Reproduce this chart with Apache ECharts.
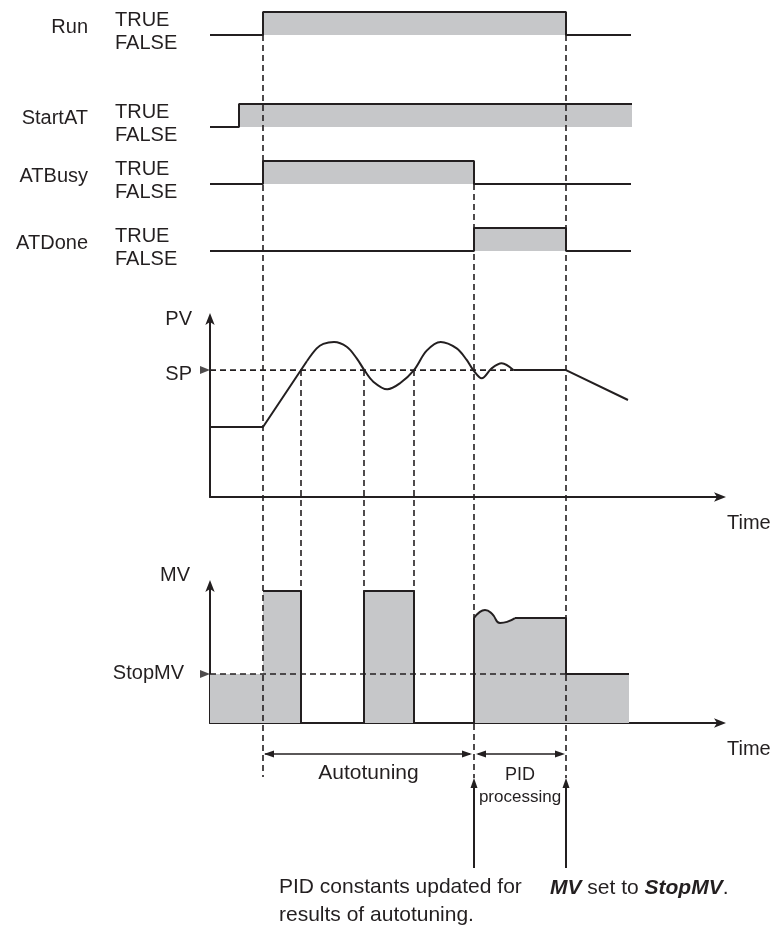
<!DOCTYPE html>
<html><head><meta charset="utf-8">
<script src="https://cdn.jsdelivr.net/npm/echarts@6/dist/echarts.min.js"></script>
<style>html,body{margin:0;padding:0;background:#fff}#c{width:775px;height:929px}</style>
</head><body><div id="c"></div>
<script>
// ---------- data (time in arbitrary units, 0 = start of window) ----------
const timeMax = 510;
const signalNames = ['Run', 'StartAT', 'ATBusy', 'ATDone'];
// digital signals: [time, 0 = FALSE / 1 = TRUE]
const runWave = [[0,0],[53,0],[53,1],[356,1],[356,0],[421,0]];
const startATWave = [[0,0],[29,0],[29,1],[422,1]];
const atBusyWave = [[0,0],[53,0],[53,1],[264,1],[264,0],[421,0]];
const atDoneWave = [[0,0],[264,0],[264,1],[356,1],[356,0],[421,0]];
// PV (process value) and SP (set point)
const spValue = 71.3;
const pvRamp = [[0,39.3],[53,39.3],[97,76.4]];
const pvOscillation = [[97,76.4],[106.7,83.5],[113.3,86.0],[124,87.1],[136.7,84.4],[146.7,77.9],[154.3,71.3],[163.3,64.8],[177.3,60.5],[190,63.9],[204,71.3],[216.7,82.2],[230.7,87.1],[246.7,83.5],[256.7,77.0],[263.3,71.3],[271.7,66.7],[281.7,72.3],[291.7,75.1],[303.3,71.3]];
const pvHoldAndFall = [[303.3,71.3],[356,71.3],[418,54.5]];
// MV (manipulated variable)
const stopMVValue = 35.8;
const mvHigh = 96.4;
const mvBeforeRun = [[0,35.8],[53,35.8]];
const mvAutotuning = [[53,96.4],[91,96.4],[91,0],[154,0],[154,96.4],[204,96.4],[204,0],[264,0],[264,76.6]];
const mvPIDStart = [[264,76.6],[269,80.6],[275,82.5],[282,79.8],[290,73.0],[297,73.8],[305,76.6]];
const mvPIDHoldAndStop = [[305,76.6],[356,76.6],[356,35.8],[419,35.8]];
// event times
const runRise = 53, atBusyFall = 264, runFall = 356;
const pvCrossTimes = [91, 154, 204];

// ---------- styling / layout ----------
const FONT = '"Liberation Sans", Arial, Helvetica, sans-serif';
const INK = '#231f20';
const GRAY = '#c6c7c9';
const LEFT = 210, WIDTH = 510;
const sigTops = [12, 104, 161, 228], SIG_H = 23;

const chart = echarts.init(document.getElementById('c'));

const grids = sigTops.map(t => ({left: LEFT, width: WIDTH, top: t, height: SIG_H}));
grids.push({left: LEFT, width: WIDTH, top: 319, height: 178});
grids.push({left: LEFT, width: WIDTH, top: 586, height: 137});

const axisLineArrow = {show: true, onZero: false, symbol: ['none', 'arrow'], symbolSize: [7, 12], symbolOffset: [0, 6], lineStyle: {color: INK, width: 2}};
const txt = (size, extra) => Object.assign({fontFamily: FONT, fontSize: size, color: INK}, extra || {});

const xAxes = grids.map((g, i) => {
  const base = {type: 'value', gridIndex: i, min: 0, max: timeMax, splitLine: {show: false}, axisTick: {show: false}, axisLabel: {show: false}};
  if (i < 4) return Object.assign(base, {show: false});
  return Object.assign(base, {
    axisLine: axisLineArrow, name: 'Time', nameLocation: 'end', nameGap: 7,
    nameTextStyle: txt(20, {align: 'left', verticalAlign: 'top', padding: [16, 0, 0, 0]})
  });
});

const yAxes = [];
for (let i = 0; i < 4; i++) {
  yAxes.push({
    type: 'value', gridIndex: i, min: 0, max: 1, interval: 1,
    axisLine: {show: false}, axisTick: {show: false}, splitLine: {show: false},
    axisLabel: txt(20, {show: true, showMinLabel: true, showMaxLabel: true, formatter: v => v === 1 ? 'TRUE' : 'FALSE', align: 'left', verticalAlign: 'top', lineHeight: 16, margin: 95})
  });
}
yAxes.push({
  type: 'value', gridIndex: 4, min: 0, max: 100,
  axisLine: axisLineArrow, axisTick: {show: false}, splitLine: {show: false},
  axisLabel: txt(20, {customValues: [spValue], formatter: () => 'SP', margin: 18, verticalAlign: 'top', lineHeight: 8}),
  name: 'PV', nameLocation: 'end', nameGap: 0,
  nameTextStyle: txt(20, {align: 'right', verticalAlign: 'middle', padding: [0, 18, 0, 0]})
});
yAxes.push({
  type: 'value', gridIndex: 5, min: 0, max: 100,
  axisLine: axisLineArrow, axisTick: {show: false}, splitLine: {show: false},
  axisLabel: txt(20, {customValues: [stopMVValue], formatter: () => 'StopMV', margin: 26}),
  name: 'MV', nameLocation: 'end', nameGap: 11,
  nameTextStyle: txt(20, {align: 'right', verticalAlign: 'middle', padding: [0, 20, 0, 0]})
});

const solid = {color: INK, width: 2};
const dashedStyle = {color: INK, width: 1.6, type: [6, 4]};
const area = {color: GRAY, opacity: 1};
const line = (ax, data, extra) => Object.assign({type: 'line', xAxisIndex: ax, yAxisIndex: ax, data: data, symbol: 'none', animation: false, lineStyle: solid, z: 2}, extra || {});

const series = [];
[runWave, startATWave, atBusyWave, atDoneWave].forEach((d, i) => series.push(line(i, d, {name: signalNames[i], areaStyle: area})));
// PV
series.push(line(4, [[0, spValue], [pvOscillation[pvOscillation.length - 1][0], spValue]], {lineStyle: dashedStyle, z: 1}));
series.push(line(4, pvRamp));
series.push(line(4, pvOscillation, {smooth: 0.35}));
series.push(line(4, pvHoldAndFall));
series.push({type: 'scatter', xAxisIndex: 4, yAxisIndex: 4, data: [[0, spValue]], symbol: 'triangle', symbolSize: [8, 10], symbolRotate: -90, symbolOffset: [-5, 0], itemStyle: {color: INK}, clip: false, silent: true, z: 5});
// MV
series.push(line(5, mvBeforeRun, {areaStyle: area, lineStyle: {width: 0}}));
series.push(line(5, mvAutotuning, {areaStyle: area}));
series.push(line(5, mvPIDStart, {areaStyle: area, smooth: 0.5}));
series.push(line(5, mvPIDHoldAndStop, {areaStyle: area}));
series.push(line(5, [[0, stopMVValue], [runFall, stopMVValue]], {lineStyle: dashedStyle, z: 3}));
series.push({type: 'scatter', xAxisIndex: 5, yAxisIndex: 5, data: [[0, stopMVValue]], symbol: 'triangle', symbolSize: [8, 10], symbolRotate: -90, symbolOffset: [-5, 0], itemStyle: {color: INK}, clip: false, silent: true, z: 5});

chart.setOption({animation: false, backgroundColor: '#fff', grid: grids, xAxis: xAxes, yAxis: yAxes, series: series});

// ---------- guides & annotations positioned through the axes ----------
const P = (g, t, v) => chart.convertToPixel({gridIndex: g}, [t, v]);
const els = [];
function seg(x1, y1, x2, y2, style) {
  els.push({type: 'line', z: 50, shape: {x1, y1, x2, y2}, style: Object.assign({stroke: INK, lineWidth: 1.6, fill: null}, style || {})});
}
function head(tx, ty, dx, dy) {
  const L = 10, W = 3.5, nx = -dy, ny = dx;
  els.push({type: 'polygon', z: 51, shape: {points: [[tx, ty], [tx - dx * L + nx * W, ty - dy * L + ny * W], [tx - dx * L - nx * W, ty - dy * L - ny * W]]}, style: {fill: INK}});
}
function text(str, x, y, size, align, extra) {
  els.push({type: 'text', z: 52, style: Object.assign({text: str, x, y, fontFamily: FONT, fontSize: size, fill: INK, align: align, verticalAlign: 'middle'}, extra || {})});
}
const dash = {lineDash: [6, 4]};
const mvAxisY = P(5, 0, 0)[1];
const xRun = P(0, runRise, 0)[0], xAT = P(0, atBusyFall, 0)[0], xEnd = P(0, runFall, 0)[0];

seg(xRun, P(0, runRise, 0)[1], xRun, mvAxisY + 54, dash);
seg(xAT, P(2, atBusyFall, 0)[1], xAT, mvAxisY + 55, dash);
seg(xEnd, P(0, runFall, 0)[1], xEnd, mvAxisY + 55, dash);
pvCrossTimes.forEach(t => {
  const a = P(4, t, spValue), b = P(5, t, mvHigh);
  seg(a[0], a[1], b[0], b[1], dash);
});
// duration arrows
const yA = mvAxisY + 31;
seg(xRun + 2, yA, xAT - 4, yA, {lineWidth: 1.5});
head(xRun + 1, yA, -1, 0); head(xAT - 2, yA, 1, 0);
seg(xAT + 4, yA, xEnd - 4, yA, {lineWidth: 1.5});
head(xAT + 2, yA, -1, 0); head(xEnd - 1, yA, 1, 0);
// event arrows
[xAT, xEnd].forEach(x => { seg(x, mvAxisY + 145, x, mvAxisY + 60, {lineWidth: 2}); head(x, mvAxisY + 55, 0, -1); });

// texts
const nameY = [27, 118, 176, 243];
signalNames.forEach((n, i) => text(n, 88, nameY[i], 20, 'right'));
text('Autotuning', (xRun + xAT) / 2, mvAxisY + 50, 21, 'center');
text('PID', (xAT + xEnd) / 2, mvAxisY + 52, 18, 'center');
text('processing', (xAT + xEnd) / 2, mvAxisY + 74, 17, 'center');
text('PID constants updated for', 279, 887, 21, 'left');
text('results of autotuning.', 279, 915, 21, 'left');
text('{b|MV} set to {b|StopMV}.', 550, 888, 21, 'left', {rich: {b: {fontFamily: FONT, fontSize: 21, fontWeight: 'bold', fontStyle: 'italic', fill: INK}}});

chart.setOption({graphic: {elements: els}});
</script>
</body></html>
